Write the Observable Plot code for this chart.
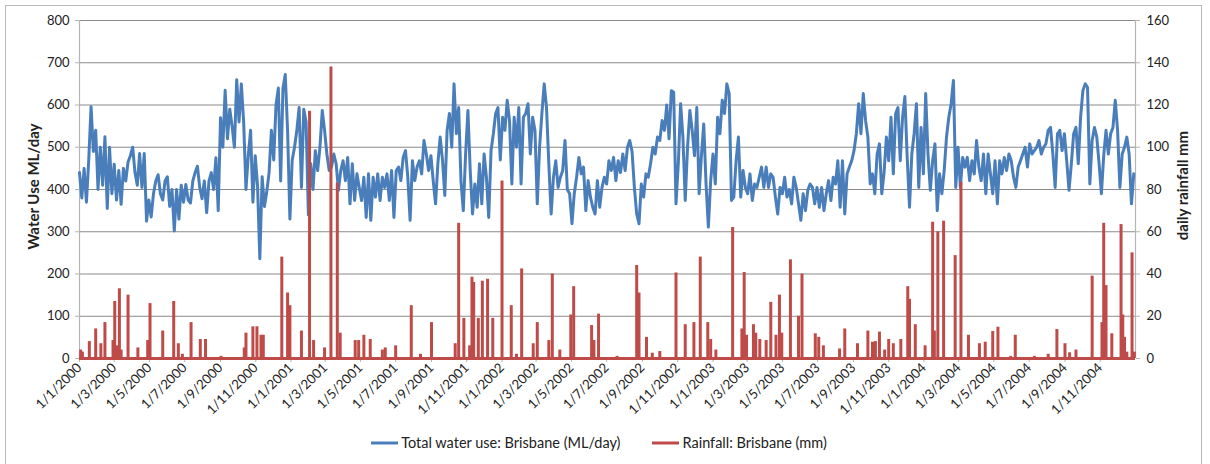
<!DOCTYPE html>
<html><head><meta charset="utf-8">
<script src="https://cdn.jsdelivr.net/npm/d3@7"></script>
<script src="https://cdn.jsdelivr.net/npm/@observablehq/plot@0.6"></script>
<style>
body{margin:0;background:#fff;font-family:Lato,"Open Sans",sans-serif;}
#wrap{position:relative;width:1210px;height:464px;overflow:hidden;background:#fff;}
#frame{position:absolute;left:5px;top:5px;width:1197px;height:475px;border:1px solid #b8b8b8;box-sizing:border-box;pointer-events:none;}
#chart{position:absolute;left:0;top:0;}
#legend{position:absolute;top:434px;left:-6px;width:1210px;display:flex;justify-content:center;font-size:14.5px;color:#222;}
.item{display:flex;align-items:center;margin:0 16px;}
.item svg{margin-right:3px;}
</style></head>
<body><div id="wrap"><div id="frame"></div><div id="chart"></div><div id="legend"></div></div>
<script>
// Total water use: Brisbane (ML/day), read every 4 days from 1 Jan 2000
const useStart = "2000-01-01";
const useStepDays = 4;
const waterUse = [
440,380,450,370,470,596,490,540,400,500,
410,525,355,500,390,460,375,445,365,450,
420,465,480,500,440,410,485,405,485,325,
375,335,390,420,435,390,375,420,430,360,
400,302,400,330,410,370,412,375,368,420,
440,455,405,378,420,345,420,440,400,475,
350,570,500,635,520,590,550,500,660,560,
650,560,400,480,540,370,
480,410,236,430,360,395,440,540,470,600,
640,420,640,672,540,330,470,500,540,594,
405,590,560,340,461,400,492,445,500,587,
540,484,445,453,484,461,398,445,468,421,
476,366,461,374,437,405,374,429,334,437,
327,429,382,437,374,429,405,437,374,445,
334,445,453,421,476,492,429,327,468,421,
453,468,437,516,484,445,
480,420,366,461,524,470,386,540,580,500,
650,532,594,420,350,484,587,445,342,413,
358,461,366,484,429,334,492,532,580,594,
470,571,540,611,563,413,571,500,594,413,
571,580,603,484,571,540,366,500,580,650,
594,460,342,429,468,405,429,445,516,400,
390,319,390,429,476,437,453,350,421,382,
358,342,421,358,405,429,
413,468,445,476,421,468,440,484,445,500,
516,490,405,342,319,413,382,437,429,461,
500,484,524,516,563,540,600,520,634,630,
366,461,603,524,374,500,587,540,480,594,
390,480,555,413,311,421,484,413,571,532,
611,580,650,627,374,382,468,524,382,445,
405,390,437,374,413,405,429,453,405,453,
405,437,429,382,342,405,
390,429,382,400,366,429,405,366,327,390,
350,398,413,405,366,405,358,405,350,390,
421,374,429,413,468,358,468,342,437,453,
468,492,532,603,532,627,563,524,413,437,
390,484,508,390,440,524,468,571,437,580,
594,468,571,620,476,358,484,532,603,405,
547,437,627,484,398,468,508,350,437,390,
445,524,571,603,658,405,
500,405,476,453,476,421,468,437,516,453,
421,484,390,484,437,390,468,366,468,437,
476,445,484,468,429,405,453,468,484,500,
453,508,484,492,500,516,484,500,508,540,
547,484,405,532,540,492,532,468,398,461,
532,547,461,571,634,650,642,413,516,547,
524,461,390,480,540,484,532,547,611,540,
405,484,500,524,484,366,437
];

// Rainfall: Brisbane (mm), rain days only (all other days 0)
const rainDates = [
"2000-01-03","2000-01-06","2000-01-18","2000-01-29","2000-02-07","2000-02-14","2000-02-28","2000-03-02","2000-03-05","2000-03-10",
"2000-03-13","2000-03-25","2000-04-11","2000-04-28","2000-05-02","2000-05-24","2000-06-12","2000-06-20","2000-06-27","2000-07-12",
"2000-07-28","2000-08-06","2000-09-02","2000-10-12","2000-10-15","2000-10-27","2000-11-03","2000-11-10","2000-11-14","2000-12-16",
"2000-12-26","2000-12-30","2001-01-19","2001-02-02","2001-02-09","2001-02-28","2001-03-11","2001-03-22","2001-03-27","2001-04-22",
"2001-04-28","2001-05-07","2001-05-18","2001-06-08","2001-06-13","2001-07-01","2001-07-28","2001-08-13","2001-09-01","2001-10-12",
"2001-10-18","2001-10-27","2001-11-06","2001-11-10","2001-11-13","2001-11-21","2001-11-28","2001-12-07","2001-12-16","2002-01-01",
"2002-01-17","2002-01-26","2002-02-04","2002-02-24","2002-03-03","2002-03-23","2002-03-29","2002-04-11","2002-04-30","2002-05-05",
"2002-06-05","2002-06-09","2002-06-17","2002-07-19","2002-08-22","2002-08-26","2002-09-08","2002-09-18","2002-10-01","2002-10-29",
"2002-11-14","2002-11-29","2002-12-10","2002-12-23","2002-12-28","2003-01-06","2003-02-04","2003-02-20","2003-02-24","2003-02-28",
"2003-03-12","2003-03-16","2003-03-23","2003-04-03","2003-04-11","2003-04-20","2003-04-26","2003-04-30","2003-05-15","2003-05-29",
"2003-06-04","2003-06-27","2003-07-03","2003-07-11","2003-08-08","2003-08-17","2003-09-08","2003-09-26","2003-10-04","2003-10-09",
"2003-10-16","2003-10-25","2003-11-01","2003-11-09","2003-11-22","2003-12-04","2003-12-07","2003-12-17","2004-01-03","2004-01-16",
"2004-01-19","2004-01-25","2004-02-04","2004-02-24","2004-03-05","2004-03-18","2004-04-06","2004-04-16","2004-04-29","2004-05-08",
"2004-05-30","2004-06-07","2004-07-10","2004-08-03","2004-08-18","2004-09-01","2004-09-09","2004-09-20","2004-10-18","2004-11-04",
"2004-11-07","2004-11-11","2004-11-21","2004-12-07","2004-12-10","2004-12-13","2004-12-17","2004-12-26","2004-12-30"
];
const rainMm = [
4,3,8,14,7,17,8.5,27,6,33,
4,30,5,8.5,26,13,27,7,2,17,
9,9,1,5,12,15,15,11,11,48,
31,25,13,117,8.5,5,138,83,12,8.5,
8.5,11,9,4,5,6,25,2,17,7,
64,19,6,38.5,36,19,36.6,37.5,19,84,
25,2,42.4,7,17,8.5,40,4,20.6,34,
15.6,8.5,21,1,44,31,10,2.5,3.3,40.5,
16,17,48,17,9,4,62,14,40.7,11,
16,12,9,8.5,26.6,11,30,12,46.7,20,
40,11.7,10,6,4.5,14,7,13,7.7,8,
12.5,4,9,7,9,34,28,16,6,64.5,
13,60,65,48.7,83.4,11,7,7.7,12.8,14.8,
1,11,1,2,13.7,7,2.7,4,39,17,
64,34.5,11.7,63.4,20.6,10,3,50,3
];

const xTickDates = [
"2000-01-01","2000-03-01","2000-05-01","2000-07-01","2000-09-01","2000-11-01",
"2001-01-01","2001-03-01","2001-05-01","2001-07-01","2001-09-01","2001-11-01",
"2002-01-01","2002-03-01","2002-05-01","2002-07-01","2002-09-01","2002-11-01",
"2003-01-01","2003-03-01","2003-05-01","2003-07-01","2003-09-01","2003-11-01",
"2004-01-01","2004-03-01","2004-05-01","2004-07-01","2004-09-01","2004-11-01"
];
const xDomain = ["2000-01-01", "2005-01-01"];
const leftTicks = [0,100,200,300,400,500,600,700,800];
const rightTicks = [0,20,40,60,80,100,120,140,160];
const leftTitle = "Water Use ML/day";
const rightTitle = "daily rainfall mm";
const seriesNames = ["Total water use: Brisbane (ML/day)", "Rainfall: Brisbane (mm)"];
const seriesColors = ["#4A7EBB", "#BE4B48"];

const rainToUse = leftTicks[leftTicks.length-1] / rightTicks[rightTicks.length-1];
const useData = waterUse.map((v, i) => ({date: d3.utcDay.offset(new Date(useStart), i * useStepDays), v}));
const rainData = rainDates.map((d, i) => ({date: new Date(d), mm: rainMm[i]}));
const fmt = d => `${d.getUTCDate()}/${d.getUTCMonth() + 1}/${d.getUTCFullYear()}`;
const gray = "#8a8a8a", axisGray = "#b5b5b5", ink = "#222";

const chart = Plot.plot({
  width: 1210, height: 420,
  marginLeft: 79, marginRight: 75, marginTop: 20, marginBottom: 62,
  style: {fontFamily: "Lato, 'Open Sans', sans-serif", fontSize: "13px", color: ink, background: "transparent"},
  x: {type: "utc", domain: xDomain.map(d => new Date(d))},
  y: {domain: [0, 800]},
  marks: [
    Plot.gridY(leftTicks, {stroke: gray, strokeOpacity: 1, strokeWidth: 1}),
    Plot.ruleX([new Date(xDomain[0]), new Date(xDomain[1])], {stroke: axisGray, strokeWidth: 1.2}),
    Plot.axisY({ticks: leftTicks, anchor: "left", tickSize: 4, tickPadding: 6, label: null, stroke: axisGray, fill: ink, fontSize: 13}),
    Plot.axisY({ticks: rightTicks.map(d => d * rainToUse), tickFormat: d => d / rainToUse, anchor: "right", tickSize: 4, tickPadding: 7, label: null, stroke: axisGray, fill: ink, fontSize: 13}),
    Plot.axisX({ticks: xTickDates.map(d => new Date(d)), tickFormat: fmt, tickRotate: -45, tickSize: 4, tickPadding: 3, label: null, stroke: axisGray, fill: ink, fontSize: 13.3}),
    Plot.text([leftTitle], {frameAnchor: "left", textAnchor: "middle", dx: -45, dy: -3, rotate: -90, fontWeight: "bold", fontSize: 15, fill: ink}),
    Plot.text([rightTitle], {frameAnchor: "right", textAnchor: "middle", dx: 48, dy: -4, rotate: -90, fontWeight: "bold", fontSize: 15, fill: ink}),
    Plot.lineY(useData, {x: "date", y: "v", stroke: seriesColors[0], strokeWidth: 3, strokeLinejoin: "round"}),
    Plot.ruleY([0], {stroke: seriesColors[1], strokeWidth: 3}),
    Plot.ruleX(rainData, {x: "date", y1: 0, y2: d => d.mm * rainToUse, stroke: seriesColors[1], strokeWidth: 3})
  ]
});
document.getElementById("chart").appendChild(chart);

const legend = document.getElementById("legend");
seriesNames.forEach((name, i) => {
  const item = document.createElement("div");
  item.className = "item";
  item.innerHTML = `<svg width="27" height="6"><line x1="0" y1="3" x2="27" y2="3" stroke="${seriesColors[i]}" stroke-width="3"/></svg><span>${name}</span>`;
  legend.appendChild(item);
});
</script>
</body></html>
